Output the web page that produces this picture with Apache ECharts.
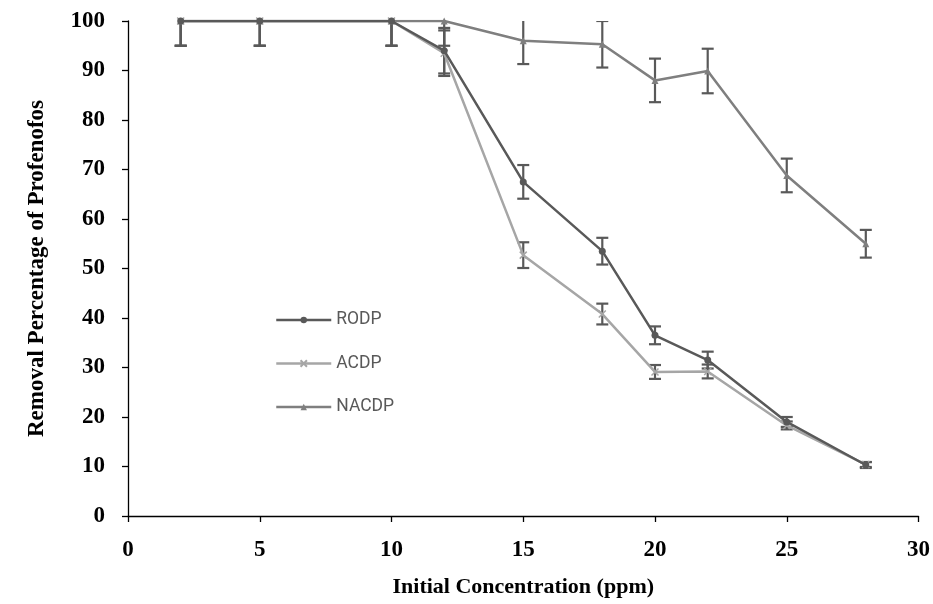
<!DOCTYPE html>
<html><head><meta charset="utf-8">
<script src="https://cdn.jsdelivr.net/npm/echarts@6/dist/echarts.min.js"></script>
<style>html,body{margin:0;padding:0;background:#fff}#c{width:933px;height:604px}</style>
</head><body><div id="c"></div>
<script>
const concentrations = [2, 5, 10, 12, 15, 18, 20, 22, 25, 28];
const rodp = [100, 100, 100, 94.0, 67.5, 53.5, 36.5, 31.5, 19.0, 10.3];
const rodpErr = [5, 5, 5, 4.6, 3.4, 2.7, 1.8, 1.7, 1.0, 0.6];
const acdp = [100, 100, 100, 93.5, 52.7, 40.8, 29.1, 29.2, 18.3, 10.4];
const acdpErr = [5, 5, 5, 4.6, 2.6, 2.1, 1.4, 1.4, 0.8, 0.5];
const nacdp = [100, 100, 100, 100, 96.0, 95.3, 88.0, 89.9, 68.8, 55.0];
const nacdpErr = [5, 5, 5, 5, 4.7, 4.7, 4.4, 4.5, 3.4, 2.8];
const yTicks = [0, 10, 20, 30, 40, 50, 60, 70, 80, 90, 100];
const xTicks = [0, 5, 10, 15, 20, 25, 30];

const pairs = (ys) => concentrations.map((x, i) => [x, ys[i]]);
const errData = (ys, es) => concentrations.map((x, i) => [x, ys[i] - es[i], ys[i] + es[i]]);

function errorSeries(ys, es) {
  return {
    type: 'custom',
    data: errData(ys, es),
    clip: true,
    silent: true,
    z: 1,
    renderItem: function (params, api) {
      const x = api.value(0);
      const lo = api.coord([x, api.value(1)]);
      const hi = api.coord([x, api.value(2)]);
      const w = 6;
      const st = { stroke: '#595959', lineWidth: 2.2 };
      return {
        type: 'group',
        children: [
          { type: 'line', shape: { x1: lo[0], y1: lo[1], x2: hi[0], y2: hi[1] }, style: st },
          { type: 'line', shape: { x1: lo[0] - w, y1: lo[1], x2: lo[0] + w, y2: lo[1] }, style: st },
          { type: 'line', shape: { x1: hi[0] - w, y1: hi[1], x2: hi[0] + w, y2: hi[1] }, style: st }
        ]
      };
    }
  };
}

const chart = echarts.init(document.getElementById('c'));
const tickFont = { fontFamily: 'Liberation Serif', fontWeight: 'bold', fontSize: 23, color: '#000' };
chart.setOption({
  animation: false,
  grid: { left: 128, right: 14, top: 21, bottom: 88 },
  legend: {
    orient: 'vertical',
    left: 270,
    top: 305,
    padding: 5,
    itemWidth: 55,
    itemHeight: 8,
    itemGap: 23.5,
    lineStyle: { width: 2.5 },
    textStyle: { fontFamily: 'Roboto', fontSize: 17.5, lineHeight: 20, color: '#595959' },
    data: ['RODP', 'ACDP', 'NACDP']
  },
  xAxis: {
    type: 'value', min: 0, max: 30, interval: 5,
    name: 'Initial Concentration (ppm)', nameLocation: 'middle', nameGap: 60,
    nameTextStyle: { fontFamily: 'Liberation Serif', fontWeight: 'bold', fontSize: 22, color: '#000' },
    axisLine: { lineStyle: { color: '#000', width: 1.3 } },
    axisTick: { show: true, length: 6, lineStyle: { color: '#000', width: 1.3 } },
    axisLabel: Object.assign({ margin: 23, formatter: v => xTicks.includes(v) ? String(v) : '' }, tickFont),
    splitLine: { show: false }
  },
  yAxis: {
    type: 'value', min: 0, max: 100, interval: 10,
    name: 'Removal Percentage of Profenofos', nameLocation: 'middle', nameGap: 79, nameRotate: 90,
    nameTextStyle: { fontFamily: 'Liberation Serif', fontWeight: 'bold', fontSize: 23, color: '#000' },
    axisLine: { show: true, lineStyle: { color: '#000', width: 1.3 } },
    axisTick: { show: true, length: 6, lineStyle: { color: '#000', width: 1.3 } },
    axisLabel: Object.assign({ margin: 23, formatter: v => yTicks.includes(v) ? String(v) : '' }, tickFont),
    splitLine: { show: false }
  },
  series: [
    errorSeries(nacdp, nacdpErr),
    errorSeries(acdp, acdpErr),
    errorSeries(rodp, rodpErr),
    {
      name: 'NACDP', type: 'line', data: pairs(nacdp), z: 3,
      symbol: 'triangle', symbolSize: 7, showSymbol: true,
      lineStyle: { color: '#7F7F7F', width: 2.5 },
      itemStyle: { color: '#7F7F7F' }
    },
    {
      name: 'ACDP', type: 'line', data: pairs(acdp), z: 4,
      symbol: 'path://M0,0L10,10M10,0L0,10', symbolSize: 7, showSymbol: true,
      lineStyle: { color: '#A6A6A6', width: 2.5 },
      itemStyle: { color: '#A6A6A6', borderColor: '#A6A6A6', borderWidth: 1.5 }
    },
    {
      name: 'RODP', type: 'line', data: pairs(rodp), z: 5,
      symbol: 'circle', symbolSize: 7, showSymbol: true,
      lineStyle: { color: '#595959', width: 2.5 },
      itemStyle: { color: '#595959' }
    }
  ]
});
</script>
</body></html>
